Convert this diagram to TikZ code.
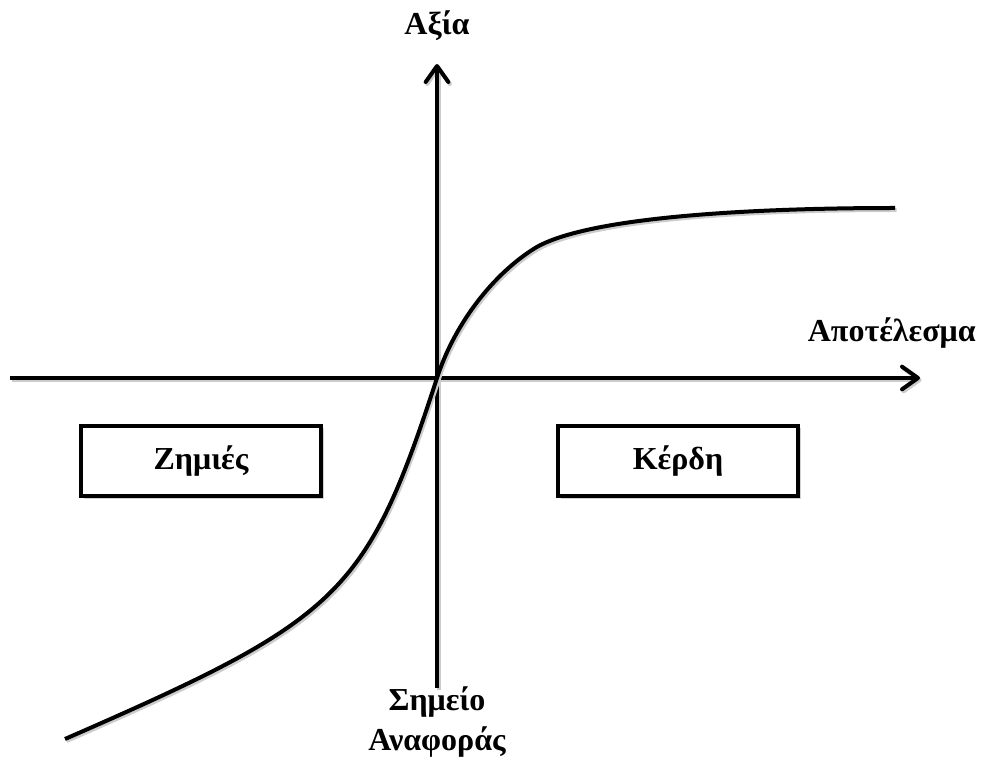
\documentclass[tikz,border=0pt]{standalone}
\usepackage{fontspec}
\setmainfont{Liberation Serif}
\usetikzlibrary{arrows.meta,shadows}
\begin{document}
\begin{tikzpicture}[x=0.75pt,y=-0.75pt,
  lbl/.style={font=\bfseries\fontsize{24}{29}\selectfont, inner sep=0pt, align=center},
  axis/.style={line width=3pt, -{Straight Barb[length=12pt,width=17pt,line width=3pt,round]}, preaction={draw=black!20, line width=3pt, transform canvas={shift={(1.2pt,-1.5pt)}}}},
  curve/.style={line width=3pt, preaction={draw=black!20, line width=3pt, transform canvas={shift={(1.2pt,-1.5pt)}}}},
  box/.style={draw, line width=3pt, fill=white, minimum width=180pt, minimum height=53pt, inner sep=0pt,
    font=\bfseries\fontsize{24}{29}\selectfont, drop shadow={shadow xshift=2pt, shadow yshift=-2pt, fill=black!30, opacity=0.6}}
]
\useasboundingbox (0,0) rectangle (982,762);
\coordinate (xl) at (10,378);
\coordinate (xr) at (920,378);
\coordinate (yb) at (437,688);
\coordinate (yt) at (437,64);
\coordinate (o) at (437,378);
\coordinate (c0) at (65,739);
\coordinate (c2) at (532,250);
\coordinate (c3) at (895,208);
\draw[axis] (xl) -- (xr);
\draw[axis] (yb) -- (yt);
\draw[curve] (c0) .. controls (340,619) and (366,596) .. (o)
  .. controls (453,328) and (489,278) .. (c2)
  .. controls (582,216) and (760,208) .. (c3);
\node[lbl] (axia) at (437,26) {Αξία};
\node[lbl, anchor=east] (apot) at (976,333) {Αποτέλεσμα};
\node[lbl] (shm) at (437,722) {Σημείο\\[1pt]Αναφοράς};
\node[box] (zim) at (201,461) {Ζημιές};
\node[box] (ker) at (678,461) {Κέρδη};
\end{tikzpicture}
\end{document}
